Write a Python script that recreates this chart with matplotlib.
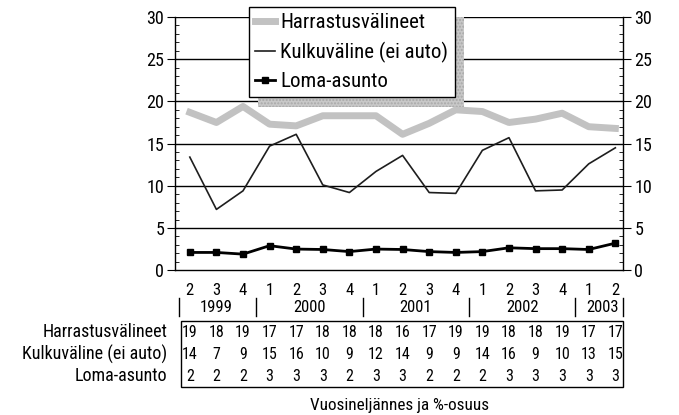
import matplotlib
matplotlib.use('Agg')
import matplotlib.pyplot as plt
from matplotlib.patches import Rectangle
from matplotlib.ticker import MultipleLocator
import matplotlib.transforms as mtransforms

plt.rcParams['font.family'] = ['Roboto Condensed', 'Archivo Narrow', 'DejaVu Sans']

# Data
quarters = ['2', '3', '4', '1', '2', '3', '4', '1', '2', '3', '4', '1', '2', '3', '4', '1', '2']
years = ['1999', '2000', '2001', '2002', '2003']
year_spans = [(0, 2), (3, 6), (7, 10), (11, 14), (15, 16)]
series_names = ['Harrastusvälineet', 'Kulkuväline (ei auto)', 'Loma-asunto']
harrastus = [18.7, 17.5, 19.4, 17.3, 17.1, 18.3, 18.3, 18.3, 16.1, 17.4, 19.0, 18.8,
             17.5, 17.9, 18.6, 17.0, 16.8]
kulku = [13.4, 7.2, 9.4, 14.7, 16.1, 10.1, 9.2, 11.7, 13.6, 9.2, 9.1, 14.2,
         15.7, 9.4, 9.5, 12.6, 14.5]
loma = [2.1, 2.1, 1.9, 2.9, 2.5, 2.45, 2.2, 2.5, 2.45, 2.2, 2.1, 2.2,
        2.65, 2.55, 2.55, 2.45, 3.2]
table_harrastus = [19, 18, 19, 17, 17, 18, 18, 18, 16, 17, 19, 19, 18, 18, 19, 17, 17]
table_kulku = [14, 7, 9, 15, 16, 10, 9, 12, 14, 9, 9, 14, 16, 9, 10, 13, 15]
table_loma = [2, 2, 2, 3, 3, 3, 2, 3, 3, 2, 2, 2, 3, 3, 3, 3, 3]

x = list(range(len(quarters)))

fig = plt.figure(figsize=(6.79, 4.15), dpi=100)
ax = fig.add_axes([0.258, 0.349, 0.66, 0.61])

ax.set_xlim(-0.55, 16.3)
ax.set_ylim(0, 30)
for yv in range(5, 31, 5):
    ax.axhline(yv, color='black', lw=1.0, zorder=1)

l1, = ax.plot(x, harrastus, color='#c2c2c2', lw=5, zorder=2, label=series_names[0])
l2, = ax.plot(x, kulku, color='#1e1e1e', lw=1.2, zorder=3, label=series_names[1])
l3, = ax.plot(x, loma, color='black', lw=2, marker='s', ms=4.5, zorder=4, label=series_names[2])

ax.spines['top'].set_visible(False)
for s in ['left', 'right', 'bottom']:
    ax.spines[s].set_linewidth(1.0)

ax.yaxis.set_major_locator(MultipleLocator(5))
ax.yaxis.set_minor_locator(MultipleLocator(1))
ax.tick_params(axis='y', which='major', direction='out', length=6, labelsize=13,
               left=True, right=True, labelleft=True, labelright=True, pad=2)
ax.tick_params(axis='y', which='minor', direction='in', length=3, left=True, right=True)
ax.set_xticks(x)
ax.set_xticklabels(quarters)
ax.tick_params(axis='x', direction='out', length=0, labelsize=12, pad=9)

leg = ax.legend(handles=[l1, l2, l3], loc='upper left', bbox_to_anchor=(0.165, 1.04),
                borderaxespad=0, fontsize=15, handlelength=0.95, handletextpad=0.25,
                labelspacing=0.45, borderpad=0.3, fancybox=False, framealpha=1,
                edgecolor='black')
leg.get_frame().set_linewidth(1.0)
leg.set_zorder(10)

# shadow behind the legend
fig.canvas.draw()
bb = leg.get_window_extent().transformed(fig.transFigure.inverted())
dx, dy = 9 / 679, 10 / 415
shadow = Rectangle((bb.x0 + dx, bb.y0 - dy), bb.width, bb.height, transform=fig.transFigure,
                   facecolor='#c8c8c8', edgecolor='#a8a8a8', hatch='.....', lw=0, zorder=5)
ax.add_artist(shadow)
shadow.set_clip_on(False)

# year row and table below the axes
trans = mtransforms.blended_transform_factory(ax.transData, fig.transFigure)
y_year = 1 - 307 / 415
for name, (a, b) in zip(years, year_spans):
    fig.text((a + b) / 2, y_year, name, transform=trans, ha='center', va='center', fontsize=12)
for sep in [-0.42, 2.5, 6.5, 10.5, 14.5, 16.28]:
    ax.plot([sep, sep], [1 - 298 / 415, 1 - 316 / 415], transform=trans, color='black',
            lw=1.0, clip_on=False)

rows = [table_harrastus, table_kulku, table_loma]
row_y = [1 - 332 / 415, 1 - 354 / 415, 1 - 376 / 415]
for name, vals, yy in zip(series_names, rows, row_y):
    fig.text(167 / 679, yy, name, ha='right', va='center', fontsize=13)
    for xi, v in zip(x, vals):
        fig.text(xi, yy, str(v), transform=trans, ha='center', va='center', fontsize=11.5)

box = Rectangle((-0.33, 1 - 387 / 415), 16.6, (387 - 321) / 415, transform=trans,
                facecolor='none', edgecolor='black', lw=1.0, clip_on=False)
ax.add_artist(box)

fig.text(400 / 679, 1 - 405 / 415, 'Vuosineljännes ja %-osuus', ha='center', va='center',
         fontsize=12.3)

fig.savefig('out.png', dpi=100)
